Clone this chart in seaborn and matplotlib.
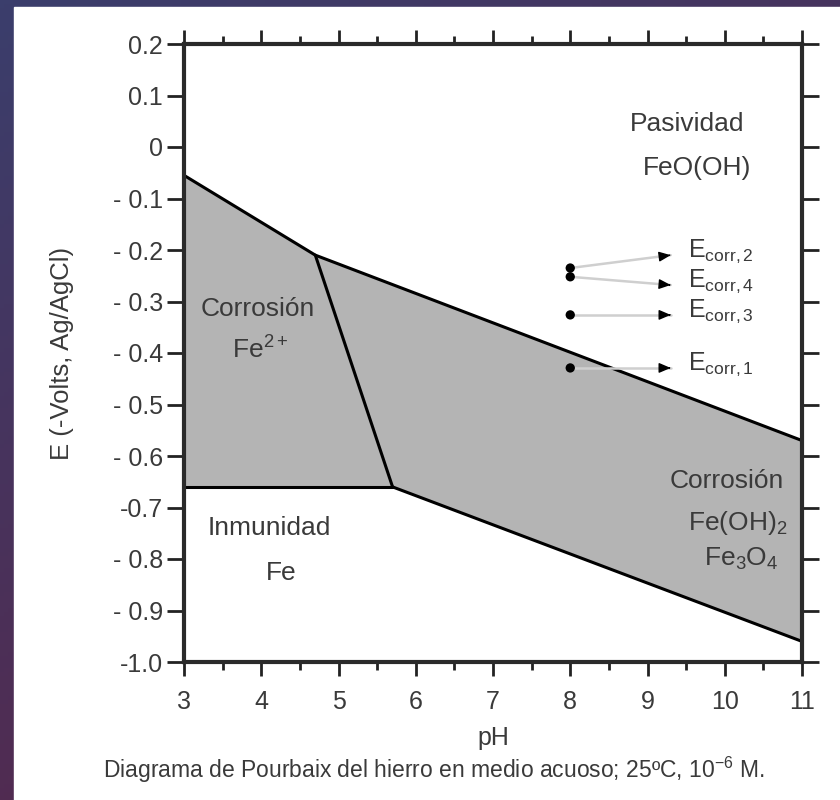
import numpy as np
import matplotlib
matplotlib.use("Agg")
import matplotlib.pyplot as plt
import matplotlib.ticker as mtick
from matplotlib.patches import Rectangle
from matplotlib.colors import LinearSegmentedColormap
import seaborn as sns

#boundary lines of the diagram (pH, E)
ph_top = [3.0, 4.7, 11.0]
e_top = [-0.055, -0.21, -0.57]
ph_mid = [4.7, 5.7]
e_mid = [-0.21, -0.66]
ph_fe = [3.0, 5.7]
e_fe = [-0.66, -0.66]
ph_low = [5.7, 11.0]
e_low = [-0.66, -0.96]

#measured corrosion potentials
corr_names = ["corr,2", "corr,4", "corr,3", "corr,1"]
corr_ph = [8.0, 8.0, 8.0, 8.0]
corr_e = [-0.235, -0.252, -0.326, -0.429]
arrow_ph = [9.3, 9.3, 9.3, 9.3]
arrow_e = [-0.21, -0.268, -0.326, -0.429]

#ticks
x_ticks = [3, 4, 5, 6, 7, 8, 9, 10, 11]
y_ticks = [0.2, 0.1, 0.0, -0.1, -0.2, -0.3, -0.4, -0.5, -0.6, -0.7, -0.8, -0.9, -1.0]
y_ticklabels = ["0.2", "0.1", "0", "- 0.1", "- 0.2", "- 0.3", "- 0.4", "- 0.5", "- 0.6", "-0.7", "- 0.8", "- 0.9", "-1.0"]

sns.set_style("white")
plt.rcParams["font.family"] = ["Liberation Sans", "DejaVu Sans"]
plt.rcParams["mathtext.fontset"] = "custom"
plt.rcParams["mathtext.rm"] = "Liberation Sans"
plt.rcParams["mathtext.it"] = "Liberation Sans:italic"

text_color = "#3a3a3a"
fill_color = "#b4b4b4"

fig = plt.figure(figsize=(8.4, 8.0), dpi=100)

#---
#purple frame behind the white panel
bg = fig.add_axes([0, 0, 1, 1], zorder=-10)
gx, gy = np.meshgrid(np.linspace(0, 1, 200), np.linspace(0, 1, 200))
grad = 0.65 * gy + 0.35 * gx
cmap = LinearSegmentedColormap.from_list("frame", ["#3b3e6c", "#5c2244"])
bg.imshow(grad, cmap=cmap, extent=[0, 840, 800, 0], aspect="auto")
bg.add_patch(Rectangle((14, 7), 840, 800, color="white"))
bg.set_xlim(0, 840)
bg.set_ylim(800, 0)
bg.axis("off")
#---

ax = fig.add_axes([184 / 840, 1 - 662 / 800, 618 / 840, 618 / 800])
ax.set_facecolor("white")

#gray corrosion regions
ax.fill(ph_top[:2] + ph_mid[::-1][:1] + [3.0], e_top[:2] + [e_mid[1], e_fe[0]], color=fill_color, lw=0)
ax.fill(ph_top[1:] + ph_low[::-1], e_top[1:] + e_low[::-1], color=fill_color, lw=0)

for xs, ys in [(ph_top, e_top), (ph_mid, e_mid), (ph_fe, e_fe), (ph_low, e_low)]:
	sns.lineplot(x=xs, y=ys, ax=ax, color="black", lw=2.2, sort=False, estimator=None)

#corrosion potentials with arrows
for ph0, e0, ph1, e1, name in zip(corr_ph, corr_e, arrow_ph, arrow_e, corr_names):
	ax.plot([ph0, ph1], [e0, e1], color="#cfcfcf", lw=1.8, zorder=3)
	slope = (e1 - e0) / (ph1 - ph0)
	ax.annotate("", xy=(ph1, e1), xytext=(ph1 - 0.05, e1 - 0.05 * slope),
		arrowprops=dict(arrowstyle="-|>,head_length=0.7,head_width=0.3", color="black", lw=1), zorder=4)
	ax.text(ph1 + 0.22, e1 - 0.004, "E$_{\\mathrm{" + name + "}}$", fontsize=18, color=text_color, va="baseline", ha="left")
sns.scatterplot(x=corr_ph, y=corr_e, ax=ax, color="black", s=45, zorder=5, edgecolor="none")

#region labels
ax.text(9.51, 0.045, "Pasividad", fontsize=19, color=text_color, ha="center", va="center")
ax.text(9.64, -0.041, "FeO(OH)", fontsize=19, color=text_color, ha="center", va="center")
ax.text(3.96, -0.315, "Corrosión", fontsize=19, color=text_color, ha="center", va="center")
ax.text(3.98, -0.395, "Fe$^{2+}$", fontsize=19, color=text_color, ha="center", va="center")
ax.text(10.02, -0.649, "Corrosión", fontsize=19, color=text_color, ha="center", va="center")
ax.text(10.17, -0.73, "Fe(OH)$_{2}$", fontsize=19, color=text_color, ha="center", va="center")
ax.text(10.22, -0.8, "Fe$_{3}$O$_{4}$", fontsize=19, color=text_color, ha="center", va="center")
ax.text(4.11, -0.74, "Inmunidad", fontsize=19, color=text_color, ha="center", va="center")
ax.text(4.26, -0.827, "Fe", fontsize=19, color=text_color, ha="center", va="center")

ax.set_xlim(3, 11)
ax.set_ylim(-1.0, 0.2)
ax.set_xticks(x_ticks)
ax.set_xticklabels([str(t) for t in x_ticks])
ax.xaxis.set_minor_locator(mtick.MultipleLocator(0.5))
ax.set_yticks(y_ticks)
ax.set_yticklabels(y_ticklabels)

ax.tick_params(axis="x", which="both", top=True, bottom=True, direction="out", colors="#222222", labelcolor=text_color, labelsize=18, width=2)
ax.tick_params(axis="x", which="major", length=10, pad=10)
ax.tick_params(axis="x", which="minor", length=6)
ax.tick_params(axis="y", which="both", left=True, right=True, direction="out", length=12, width=2, colors="#222222", labelcolor=text_color, labelsize=18, pad=3)

for side in ["left", "right", "top", "bottom"]:
	ax.spines[side].set_linewidth(3)
	ax.spines[side].set_color("#2a2a2a")

ax.set_xlabel("pH", fontsize=18, color=text_color, labelpad=9)
ax.set_ylabel("E (-Volts, Ag/AgCl)", fontsize=18.5, color=text_color, labelpad=28)

fig.text(0.517, 1 - 770 / 800, "Diagrama de Pourbaix del hierro en medio acuoso; 25ºC, 10$^{-6}$ M.", fontsize=16.5, color=text_color, ha="center", va="center")

plt.savefig("out.png", dpi=100)
